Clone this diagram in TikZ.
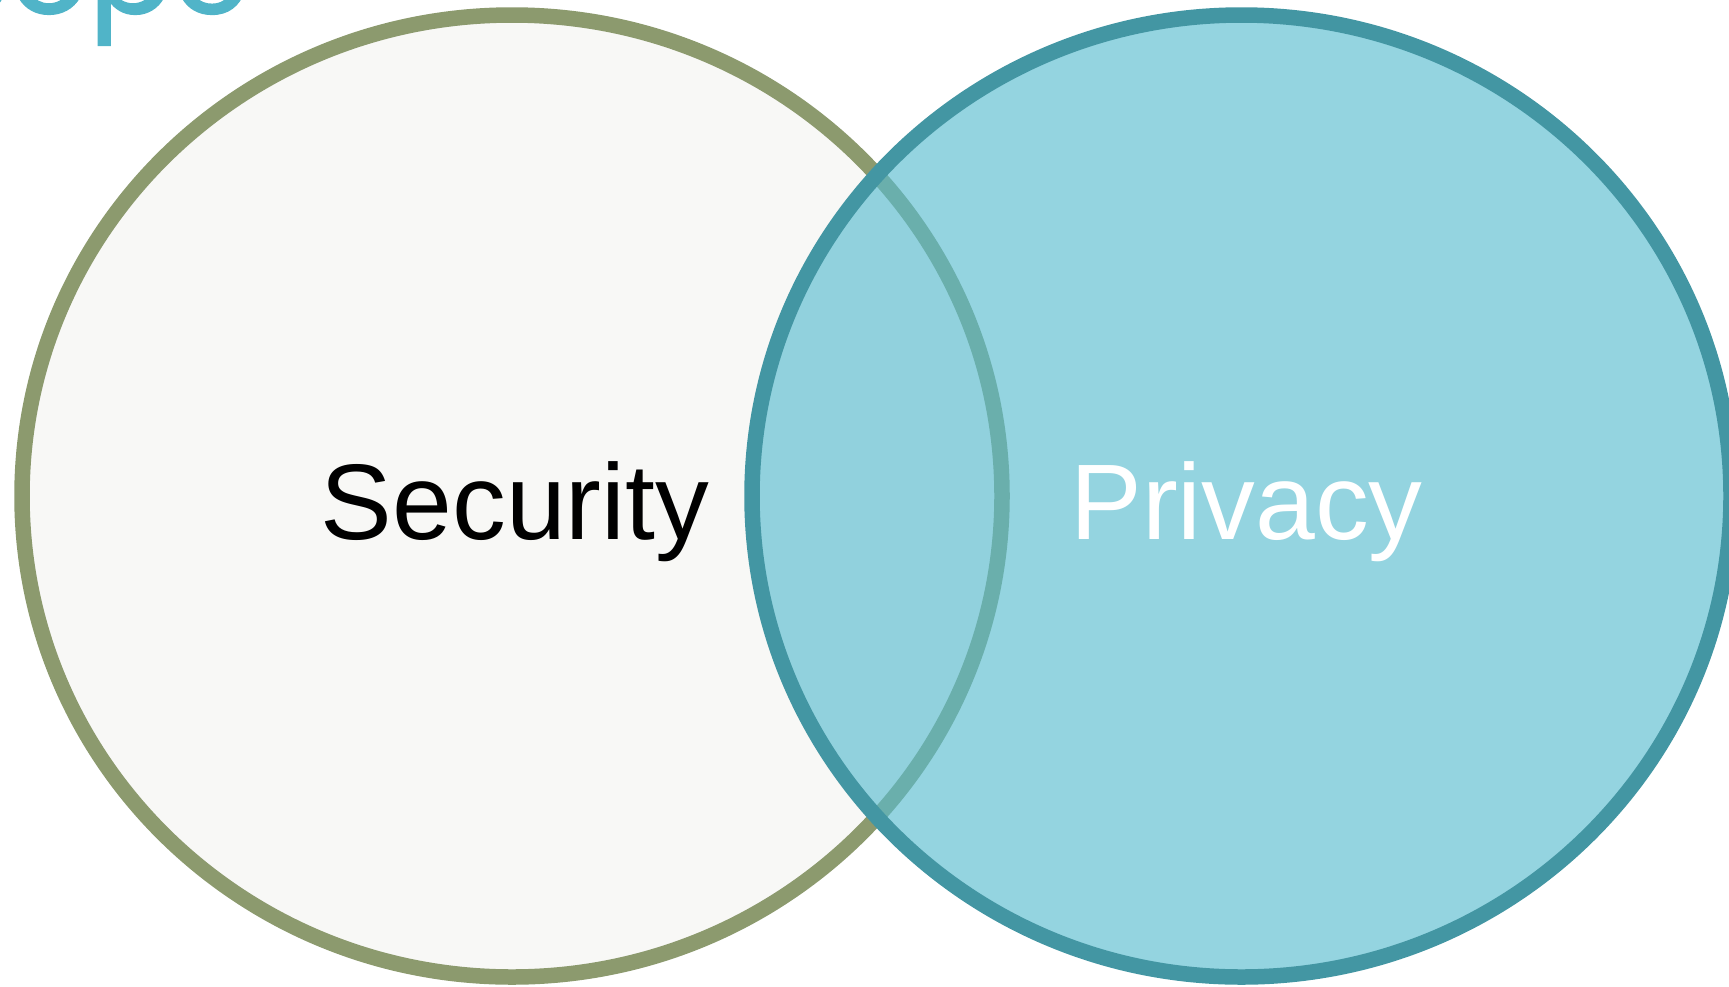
\documentclass[tikz,border=0pt]{standalone}
\usepackage{fontspec}
\setmainfont{Liberation Sans}
\newfontfamily\logofont[FakeBold=1.6]{Poppins}
\usepackage{tikz}
\usetikzlibrary{positioning}
\definecolor{sagegreen}{RGB}{140,154,110}
\definecolor{offwhite}{RGB}{248,248,246}
\definecolor{tealdark}{RGB}{67,150,163}
\definecolor{skyblue}{RGB}{87,187,207}
\definecolor{logoblue}{RGB}{80,180,200}

\begin{document}
\begin{tikzpicture}[x=1pt,y=-1pt]

    % Rahmen und Zuschnitt
    \useasboundingbox (0,0) rectangle (1729,986);
    \clip (0,0) rectangle (1729,986);

    % Logo oben links (angeschnitten)
    \node[anchor=base east, inner sep=0pt, text=logoblue,
          font=\logofont\fontsize{124}{130}\selectfont] (logo) at (250,13) {Scope};

    % Linker Kreis
    \filldraw[fill=offwhite, draw=sagegreen, line width=15.5pt]
        (512,496) ellipse [x radius=490, y radius=481];

    % Rechter Kreis, Fuellung halbtransparent
    \fill[skyblue, fill opacity=0.64] (1241.5,496) ellipse [x radius=489.5, y radius=481];
    \draw[tealdark, line width=15.5pt] (1241.5,496) ellipse [x radius=489.5, y radius=481];

    % Beschriftungen
    \node[anchor=base, inner sep=0pt, font=\fontsize{107.5}{120}\selectfont] (security) at (515,539) {Security};
    \node[anchor=base, inner sep=0pt, text=white, font=\fontsize{107.5}{120}\selectfont] (privacy) at (1246.5,539) {Privacy};

\end{tikzpicture}
\end{document}
